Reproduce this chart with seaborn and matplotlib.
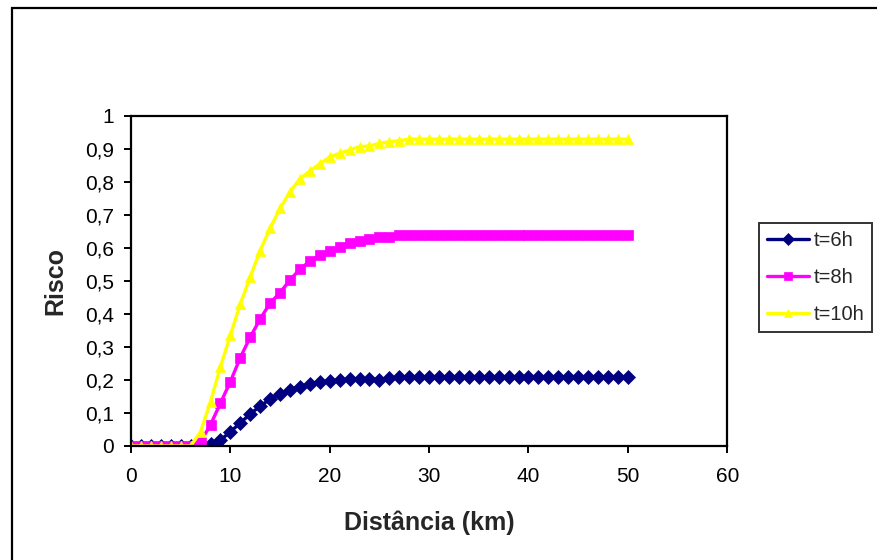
import matplotlib
matplotlib.use("Agg")
import matplotlib.pyplot as plt
import matplotlib.patches as mpatches
from matplotlib.ticker import FuncFormatter, MultipleLocator
import seaborn as sns
import pandas as pd

# distance (km)
distancia = [0, 1, 2, 3, 4, 5, 6, 7, 8, 9, 10, 11, 12, 13, 14, 15, 16, 17, 18, 19, 20,
             21, 22, 23, 24, 25, 26, 27, 28, 29, 30, 31, 32, 33, 34, 35, 36, 37, 38, 39, 40,
             41, 42, 43, 44, 45, 46, 47, 48, 49, 50]

risco_6h = [0, 0, 0, 0, 0, 0, 0, 0.0, 0.005, 0.018, 0.043, 0.07, 0.097, 0.121, 0.142,
            0.158, 0.17, 0.18, 0.187, 0.193, 0.197, 0.199, 0.202, 0.202, 0.203, 0.201,
            0.205, 0.208, 0.208, 0.208, 0.208, 0.208, 0.208, 0.208, 0.208, 0.208, 0.208,
            0.208, 0.208, 0.208, 0.208, 0.208, 0.208, 0.208, 0.208, 0.208, 0.208, 0.208,
            0.208, 0.208, 0.208]

risco_8h = [0, 0, 0, 0, 0, 0, 0, 0.013, 0.064, 0.13, 0.195, 0.268, 0.33, 0.385, 0.433,
            0.465, 0.503, 0.536, 0.56, 0.579, 0.592, 0.604, 0.616, 0.622, 0.627, 0.632,
            0.634, 0.64, 0.64, 0.64, 0.64, 0.64, 0.64, 0.64, 0.64, 0.64, 0.64, 0.64, 0.64,
            0.64, 0.64, 0.64, 0.64, 0.64, 0.64, 0.64, 0.64, 0.64, 0.64, 0.64, 0.64]

risco_10h = [0, 0, 0, 0, 0, 0, 0, 0.043, 0.134, 0.24, 0.336, 0.43, 0.513, 0.592, 0.66,
             0.72, 0.77, 0.81, 0.833, 0.855, 0.876, 0.887, 0.897, 0.907, 0.909, 0.917,
             0.922, 0.925, 0.93, 0.93, 0.93, 0.93, 0.93, 0.93, 0.93, 0.93, 0.93, 0.93,
             0.93, 0.93, 0.93, 0.93, 0.93, 0.93, 0.93, 0.93, 0.93, 0.93, 0.93, 0.93, 0.93]

series = ["t=6h", "t=8h", "t=10h"]
cores = ["#000080", "#FF00FF", "#FFFF00"]
marcadores = ["D", "s", "^"]

sns.set_style("white")
plt.rcParams["font.family"] = ["Liberation Sans", "DejaVu Sans"]

df = pd.DataFrame({
    "distancia": distancia * 3,
    "risco": risco_6h + risco_8h + risco_10h,
    "serie": [s for s in series for _ in distancia],
})

fig = plt.figure(figsize=(8.77, 5.6), dpi=100)
ax = fig.add_axes([0.1494, 0.2036, 0.6798, 0.5893])

for serie, cor, mk in zip(series, cores, marcadores):
    sub = df.loc[df["serie"] == serie]
    sns.lineplot(
        ax=ax, data=sub, x="distancia", y="risco",
        color=cor, marker=mk, markersize=7.5,
        markeredgecolor=cor, markeredgewidth=0.5,
        linewidth=2.4, label=serie, legend=False,
    )

ax.set_xlim(0, 60)
ax.set_ylim(0, 1)
ax.xaxis.set_major_locator(MultipleLocator(10))
ax.yaxis.set_major_locator(MultipleLocator(0.1))
ax.yaxis.set_major_formatter(FuncFormatter(lambda v, p: f"{round(v, 1):g}".replace(".", ",")))

for sp in ax.spines.values():
    sp.set_color("black")
    sp.set_linewidth(1.6)

ax.tick_params(axis="both", direction="out", length=5, width=1.4, colors="black", labelsize=15)
ax.tick_params(axis="x", pad=10, bottom=True)
ax.tick_params(axis="y", pad=7, left=True)
ax.grid(False)

ax.set_xlabel("Distância (km)", fontsize=18, fontweight="bold")
ax.set_ylabel("Risco", fontsize=18, fontweight="bold")
ax.xaxis.label.set_va("center")
ax.yaxis.label.set_va("center")
ax.xaxis.set_label_coords(0.5, -0.233)
ax.yaxis.set_label_coords(-0.1275, 0.5)

handles, labels = ax.get_legend_handles_labels()
leg = fig.legend(
    handles, labels,
    loc="upper left", bbox_to_anchor=(0.8655, 0.602),
    fontsize=14.5, frameon=True, fancybox=False, edgecolor="black",
    borderaxespad=0, borderpad=0.4, labelspacing=0.9,
    handlelength=2.1, handletextpad=0.2, markerscale=0.8,
)
leg.get_frame().set_linewidth(1.4)

# outer chart border (runs off right and bottom)
borda = mpatches.Rectangle((0.0137, -0.1), 1.2, 1.0857, transform=fig.transFigure,
                           fill=False, edgecolor="black", linewidth=1.6, clip_on=False)
fig.patches.append(borda)

fig.savefig("out.png", dpi=100)
plt.close()
